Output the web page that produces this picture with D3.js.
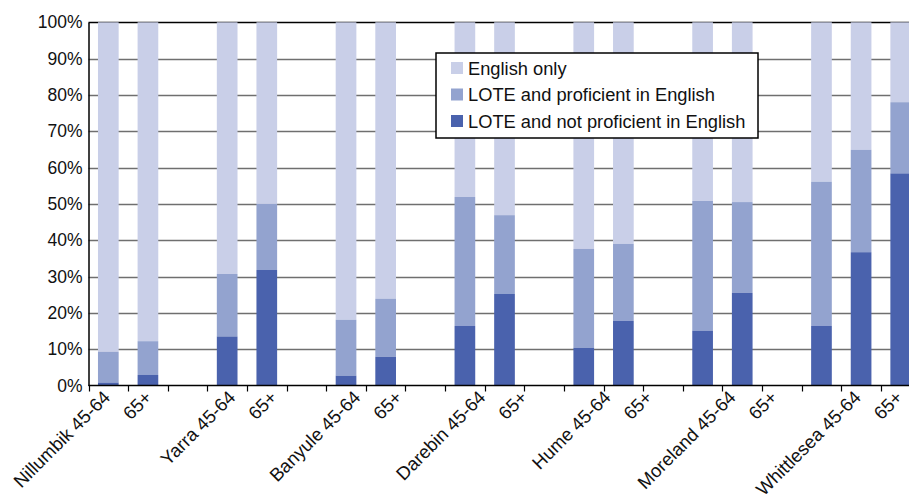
<!DOCTYPE html>
<html>
<head>
<meta charset="utf-8">
<script src="https://cdn.jsdelivr.net/npm/d3@7"></script>
<style>
  html, body { margin: 0; padding: 0; background: #fff; }
  svg { display: block; font-family: "Liberation Sans", Arial, sans-serif; }
</style>
</head>
<body>
<svg id="chart" width="909" height="496"></svg>
<script>
// ---- data ----
const categories = [
  "Nillumbik 45-64", "65+", "",
  "Yarra 45-64", "65+", "",
  "Banyule 45-64", "65+", "",
  "Darebin 45-64", "65+", "",
  "Hume 45-64", "65+", "",
  "Moreland 45-64", "65+", "",
  "Whittlesea 45-64", "65+", ""
];
// percentages (null = empty slot)
const notProficient = [0.8, 2.9, null, 13.5, 31.8, null, 2.7, 7.9, null, 16.4, 25.2, null, 10.4, 17.8, null, 15.1, 25.5, null, 16.4, 36.7, 58.4];
const proficient    = [8.5, 9.3, null, 17.2, 18.2, null, 15.4, 16.0, null, 35.5, 21.7, null, 27.2, 21.2, null, 35.7, 25.0, null, 39.7, 28.2, 19.6];
const englishOnly   = notProficient.map((d, i) => d === null ? null : 100 - d - proficient[i]);
const seriesNames = ["English only", "LOTE and proficient in English", "LOTE and not proficient in English"];
const seriesColors = ["#c9cfe8", "#93a3cf", "#4a62ad"];
const yTicks = [0, 10, 20, 30, 40, 50, 60, 70, 80, 90, 100];

// ---- layout ----
const svg = d3.select("#chart");
const mLeft = 88.5, mBottom = 385.5, mTop = 22.3;
const step = 39.62;
const n = categories.length;

const x = d3.scaleBand()
  .domain(d3.range(n))
  .range([mLeft, mLeft + step * n])
  .paddingInner(0.478)
  .paddingOuter(0.239);

const xLabel = d3.scalePoint()
  .domain(d3.range(n))
  .range([mLeft + step / 2 + 3, mLeft + step / 2 + 3 + 41.7 * (n - 1)]);

const y = d3.scaleLinear().domain([0, 100]).range([mBottom, mTop]);

// gridlines
svg.append("g")
  .selectAll("line")
  .data(yTicks.filter(t => t > 0))
  .join("line")
  .attr("x1", mLeft).attr("x2", 909)
  .attr("y1", d => Math.round(y(d)) + 0.5).attr("y2", d => Math.round(y(d)) + 0.5)
  .attr("stroke", d => d === 100 ? "#000" : "#6f6f6f")
  .attr("stroke-width", 1.3);

// stacked data
const rows = categories.map((c, i) => ({
  i,
  notProf: notProficient[i],
  prof: proficient[i],
  eng: englishOnly[i]
})).filter(r => r.notProf !== null);

const keys = ["eng", "prof", "notProf"];
const stack = d3.stack().keys(keys).order(d3.stackOrderReverse);
const stacked = stack(rows);

svg.append("g")
  .selectAll("g")
  .data(stacked)
  .join("g")
  .attr("fill", d => seriesColors[keys.indexOf(d.key)])
  .selectAll("rect")
  .data(d => d)
  .join("rect")
  .attr("x", d => x(d.data.i))
  .attr("width", x.bandwidth())
  .attr("y", d => y(d[1]))
  .attr("height", d => y(d[0]) - y(d[1]));

// y axis
const yAxis = d3.axisLeft(y).tickValues(yTicks).tickFormat(d => d + "%").tickSize(0).tickPadding(6);
const gy = svg.append("g").attr("transform", `translate(${mLeft},0)`).call(yAxis);
gy.select(".domain").attr("stroke", "#000").attr("stroke-width", 1.5);
gy.selectAll("text").attr("font-size", 17.5).attr("fill", "#111").attr("font-family", "\"Liberation Sans\", Arial, sans-serif");

// x axis line and ticks at slot boundaries
svg.append("line")
  .attr("x1", mLeft).attr("x2", 909)
  .attr("y1", mBottom).attr("y2", mBottom)
  .attr("stroke", "#000").attr("stroke-width", 1.5);
svg.append("g")
  .selectAll("line")
  .data(d3.range(n + 1))
  .join("line")
  .attr("x1", d => Math.round(mLeft + step * d) + 0.5)
  .attr("x2", d => Math.round(mLeft + step * d) + 0.5)
  .attr("y1", mBottom).attr("y2", mBottom + 6)
  .attr("stroke", "#000").attr("stroke-width", 1.2);

// x labels
svg.append("g")
  .selectAll("text")
  .data(categories.map((c, i) => ({ c, i })).filter(d => d.c))
  .join("text")
  .attr("transform", d => `translate(${xLabel(d.i)},${mBottom + 13}) rotate(-45)`)
  .attr("text-anchor", "end")
  .attr("font-size", 18.5)
  .attr("fill", "#111")
  .text(d => d.c);

// legend
const lg = svg.append("g").attr("transform", "translate(436,53)");
lg.append("rect").attr("width", 322).attr("height", 85)
  .attr("fill", "#fff").attr("stroke", "#000").attr("stroke-width", 1.5);
const items = lg.selectAll("g.item")
  .data(seriesNames)
  .join("g")
  .attr("class", "item")
  .attr("transform", (d, k) => `translate(15,${15 + k * 26.5})`);
items.append("rect").attr("width", 12).attr("height", 12).attr("y", -6)
  .attr("fill", (d, k) => seriesColors[k]);
items.append("text").attr("x", 17).attr("dy", "0.36em")
  .attr("font-size", 18.3).attr("fill", "#111")
  .text(d => d);
</script>
</body>
</html>
